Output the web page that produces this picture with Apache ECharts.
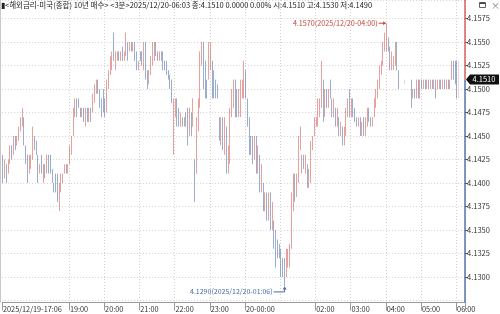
<!DOCTYPE html>
<html><head><meta charset="utf-8">
<script src="https://cdn.jsdelivr.net/npm/echarts@6/dist/echarts.min.js"></script>
<style>html,body{margin:0;padding:0;background:#fff}#c{width:500px;height:314px}</style>
</head><body><div id="c"></div>
<script>
const headerText = '▮<해외금리-미국(종합) 10년 매수> <3분>2025/12/20-06:03 종:4.1510 0.0000 0.00% 시:4.1510 고:4.1530 저:4.1490';
const highNote = '4.1570(2025/12/20-04:00)';
const lowNote = '4.1290(2025/12/20-01:06)';
const highIndex = 218, highValue = 4.1570;
const lowIndex = 160, lowValue = 4.1290;

const axisLabels = {'17:06':'2025/12/19-17:06','19:00':'19:00','20:00':'20:00','21:00':'21:00','22:00':'22:00','23:00':'23:00','00:00':'20-00:00','02:00':'02:00','03:00':'03:00','04:00':'04:00','05:00':'05:00','06:00':'06:00'};
const gridTimes = ['19:00','20:00','21:00','22:00','23:00','00:00','01:00','02:00','03:00','04:00','05:00','06:00'];

const opens = [
4.1420,4.1410,4.1420,4.1410,4.1420,4.1435,4.1430,4.1445,4.1440,4.1450,
4.1460,4.1465,4.1470,4.1440,4.1425,4.1410,4.1420,4.1425,4.1450,4.1440,
4.1430,4.1410,4.1425,4.1410,4.1415,4.1410,4.1425,4.1415,4.1410,4.1400,
4.1405,4.1390,4.1385,4.1390,4.1405,4.1410,4.1420,4.1415,4.1420,4.1440,
4.1450,4.1475,4.1485,4.1490,4.1480,4.1475,4.1480,4.1470,4.1475,4.1470,
4.1480,4.1475,4.1490,4.1500,4.1505,4.1500,4.1485,4.1490,4.1485,4.1475,
4.1505,4.1515,4.1530,4.1555,4.1530,4.1535,4.1540,4.1535,4.1540,4.1535,
4.1540,4.1550,4.1540,4.1550,4.1545,4.1550,4.1535,4.1520,4.1540,4.1535,
4.1530,4.1545,4.1515,4.1505,4.1515,4.1530,4.1540,4.1545,4.1540,4.1535,
4.1540,4.1535,4.1530,4.1525,4.1520,4.1510,4.1505,4.1450,4.1480,4.1485,
4.1470,4.1465,4.1470,4.1465,4.1470,4.1475,4.1450,4.1470,4.1460,4.1425,
4.1410,4.1460,4.1490,4.1530,4.1550,4.1510,4.1500,4.1510,4.1525,4.1530,
4.1510,4.1505,4.1500,4.1470,4.1450,4.1465,4.1440,4.1455,4.1420,4.1430,
4.1470,4.1490,4.1510,4.1490,4.1480,4.1490,4.1500,4.1505,4.1510,4.1490,
4.1465,4.1445,4.1440,4.1430,4.1440,4.1420,4.1425,4.1400,4.1400,4.1380,
4.1380,4.1375,4.1380,4.1360,4.1360,4.1340,4.1335,4.1330,4.1325,4.1310,
4.1305,4.1300,4.1310,4.1320,4.1330,4.1380,4.1410,4.1395,4.1400,4.1440,
4.1420,4.1430,4.1425,4.1420,4.1400,4.1410,4.1440,4.1450,4.1465,4.1470,
4.1480,4.1485,4.1510,4.1480,4.1495,4.1485,4.1505,4.1490,4.1480,4.1480,
4.1470,4.1470,4.1455,4.1455,4.1450,4.1455,4.1475,4.1485,4.1480,4.1485,
4.1475,4.1470,4.1465,4.1470,4.1455,4.1460,4.1455,4.1465,4.1475,4.1470,
4.1465,4.1470,4.1485,4.1495,4.1505,4.1520,4.1530,4.1545,4.1555,4.1550,
4.1545,4.1525,4.1525,4.1530,4.1545,4.1520,4.1510,4.1510,4.1510,4.1510,
4.1510,4.1510,4.1510,4.1490,4.1500,4.1495,4.1510,4.1505,4.1510,4.1505,
4.1510,4.1500,4.1510,4.1505,4.1510,4.1500,4.1510,4.1500,4.1505,4.1510,
4.1505,4.1510,4.1505,4.1510,4.1505,4.1510,4.1525,4.1520,4.1515,4.1510];
const closes = [
4.1410,4.1420,4.1410,4.1420,4.1435,4.1430,4.1445,4.1440,4.1450,4.1460,
4.1465,4.1470,4.1445,4.1425,4.1410,4.1420,4.1425,4.1450,4.1440,4.1430,
4.1405,4.1415,4.1410,4.1415,4.1410,4.1425,4.1415,4.1410,4.1400,4.1395,
4.1390,4.1385,4.1390,4.1405,4.1410,4.1420,4.1415,4.1420,4.1440,4.1450,
4.1475,4.1485,4.1480,4.1480,4.1475,4.1480,4.1470,4.1475,4.1470,4.1480,
4.1475,4.1490,4.1500,4.1505,4.1500,4.1485,4.1480,4.1480,4.1475,4.1505,
4.1515,4.1530,4.1540,4.1530,4.1535,4.1540,4.1535,4.1540,4.1535,4.1540,
4.1550,4.1540,4.1550,4.1545,4.1550,4.1535,4.1520,4.1530,4.1530,4.1530,
4.1545,4.1515,4.1505,4.1515,4.1530,4.1540,4.1545,4.1540,4.1535,4.1540,
4.1535,4.1530,4.1525,4.1520,4.1510,4.1505,4.1490,4.1480,4.1485,4.1470,
4.1465,4.1470,4.1465,4.1470,4.1465,4.1450,4.1470,4.1460,4.1485,4.1410,
4.1460,4.1490,4.1530,4.1545,4.1510,4.1500,4.1495,4.1540,4.1540,4.1510,
4.1500,4.1495,4.1490,4.1455,4.1465,4.1440,4.1455,4.1420,4.1430,4.1470,
4.1490,4.1500,4.1490,4.1480,4.1495,4.1500,4.1510,4.1510,4.1495,4.1465,
4.1445,4.1440,4.1430,4.1440,4.1420,4.1425,4.1400,4.1405,4.1380,4.1385,
4.1375,4.1380,4.1360,4.1365,4.1340,4.1335,4.1330,4.1325,4.1310,4.1305,
4.1300,4.1320,4.1325,4.1330,4.1390,4.1410,4.1400,4.1405,4.1440,4.1455,
4.1430,4.1425,4.1430,4.1400,4.1410,4.1440,4.1450,4.1465,4.1470,4.1480,
4.1490,4.1505,4.1480,4.1495,4.1485,4.1500,4.1490,4.1485,4.1485,4.1470,
4.1475,4.1455,4.1460,4.1450,4.1455,4.1475,4.1485,4.1480,4.1485,4.1475,
4.1470,4.1465,4.1470,4.1455,4.1460,4.1455,4.1465,4.1475,4.1470,4.1465,
4.1470,4.1485,4.1495,4.1505,4.1520,4.1530,4.1545,4.1555,4.1560,4.1545,
4.1525,4.1530,4.1530,4.1540,4.1520,4.1510,4.1510,4.1510,4.1510,4.1510,
4.1510,4.1510,4.1490,4.1500,4.1495,4.1510,4.1505,4.1510,4.1505,4.1510,
4.1500,4.1510,4.1505,4.1510,4.1500,4.1510,4.1500,4.1510,4.1510,4.1505,
4.1510,4.1505,4.1510,4.1505,4.1510,4.1525,4.1520,4.1515,4.1510,4.1510];
const lows = [
4.1400,4.1405,4.1400,4.1410,4.1420,4.1425,4.1430,4.1435,4.1440,4.1445,
4.1455,4.1460,4.1440,4.1420,4.1400,4.1410,4.1415,4.1425,4.1435,4.1430,
4.1400,4.1410,4.1410,4.1400,4.1405,4.1410,4.1410,4.1410,4.1400,4.1390,
4.1390,4.1380,4.1370,4.1390,4.1400,4.1410,4.1410,4.1410,4.1420,4.1430,
4.1450,4.1470,4.1470,4.1480,4.1470,4.1470,4.1465,4.1460,4.1465,4.1465,
4.1465,4.1475,4.1485,4.1495,4.1495,4.1480,4.1470,4.1475,4.1470,4.1475,
4.1500,4.1515,4.1520,4.1530,4.1520,4.1530,4.1530,4.1530,4.1530,4.1530,
4.1535,4.1530,4.1540,4.1540,4.1540,4.1530,4.1520,4.1520,4.1530,4.1525,
4.1520,4.1510,4.1500,4.1505,4.1515,4.1525,4.1530,4.1535,4.1530,4.1530,
4.1530,4.1520,4.1520,4.1515,4.1510,4.1500,4.1485,4.1430,4.1470,4.1460,
4.1460,4.1460,4.1460,4.1460,4.1460,4.1440,4.1450,4.1450,4.1460,4.1380,
4.1410,4.1455,4.1480,4.1525,4.1500,4.1490,4.1490,4.1510,4.1520,4.1490,
4.1490,4.1490,4.1490,4.1445,4.1440,4.1435,4.1430,4.1410,4.1410,4.1420,
4.1470,4.1480,4.1470,4.1470,4.1470,4.1470,4.1490,4.1490,4.1490,4.1460,
4.1430,4.1430,4.1420,4.1425,4.1410,4.1410,4.1390,4.1390,4.1370,4.1370,
4.1360,4.1360,4.1350,4.1350,4.1330,4.1310,4.1320,4.1320,4.1300,4.1300,
4.1290,4.1300,4.1310,4.1310,4.1330,4.1370,4.1380,4.1385,4.1400,4.1435,
4.1410,4.1415,4.1410,4.1395,4.1395,4.1400,4.1435,4.1450,4.1460,4.1460,
4.1470,4.1480,4.1465,4.1470,4.1480,4.1480,4.1490,4.1470,4.1470,4.1460,
4.1460,4.1450,4.1450,4.1440,4.1440,4.1450,4.1470,4.1470,4.1470,4.1470,
4.1465,4.1460,4.1460,4.1450,4.1450,4.1450,4.1450,4.1460,4.1465,4.1460,
4.1460,4.1470,4.1480,4.1490,4.1500,4.1515,4.1525,4.1540,4.1540,4.1540,
4.1520,4.1520,4.1520,4.1525,4.1520,4.1500,4.1510,4.1510,4.1505,4.1510,
4.1510,4.1510,4.1480,4.1490,4.1490,4.1490,4.1490,4.1490,4.1500,4.1500,
4.1500,4.1500,4.1500,4.1500,4.1500,4.1500,4.1490,4.1500,4.1500,4.1500,
4.1500,4.1500,4.1500,4.1500,4.1500,4.1510,4.1510,4.1505,4.1490,4.1490];
const highs = [
4.1430,4.1425,4.1420,4.1425,4.1440,4.1440,4.1450,4.1450,4.1450,4.1460,
4.1470,4.1480,4.1470,4.1440,4.1430,4.1430,4.1430,4.1460,4.1450,4.1445,
4.1430,4.1420,4.1430,4.1420,4.1420,4.1430,4.1430,4.1430,4.1415,4.1400,
4.1410,4.1410,4.1400,4.1410,4.1410,4.1420,4.1420,4.1420,4.1440,4.1450,
4.1480,4.1490,4.1490,4.1490,4.1480,4.1480,4.1480,4.1480,4.1480,4.1480,
4.1480,4.1495,4.1505,4.1510,4.1510,4.1500,4.1490,4.1500,4.1490,4.1510,
4.1520,4.1535,4.1540,4.1560,4.1540,4.1540,4.1540,4.1540,4.1545,4.1540,
4.1560,4.1550,4.1550,4.1550,4.1550,4.1550,4.1540,4.1530,4.1540,4.1540,
4.1550,4.1550,4.1520,4.1520,4.1535,4.1550,4.1550,4.1550,4.1540,4.1540,
4.1540,4.1540,4.1530,4.1530,4.1520,4.1515,4.1510,4.1490,4.1490,4.1490,
4.1480,4.1475,4.1470,4.1470,4.1475,4.1480,4.1480,4.1475,4.1490,4.1425,
4.1470,4.1490,4.1540,4.1550,4.1550,4.1530,4.1510,4.1550,4.1550,4.1530,
4.1520,4.1510,4.1505,4.1470,4.1470,4.1470,4.1470,4.1460,4.1440,4.1480,
4.1500,4.1510,4.1510,4.1500,4.1500,4.1510,4.1510,4.1530,4.1520,4.1490,
4.1470,4.1450,4.1450,4.1450,4.1450,4.1440,4.1430,4.1420,4.1400,4.1390,
4.1390,4.1390,4.1390,4.1380,4.1360,4.1350,4.1340,4.1335,4.1330,4.1320,
4.1320,4.1330,4.1330,4.1335,4.1390,4.1410,4.1410,4.1410,4.1450,4.1460,
4.1430,4.1430,4.1430,4.1420,4.1415,4.1445,4.1450,4.1470,4.1470,4.1490,
4.1490,4.1530,4.1510,4.1500,4.1500,4.1500,4.1510,4.1490,4.1490,4.1480,
4.1480,4.1470,4.1465,4.1460,4.1460,4.1480,4.1490,4.1500,4.1490,4.1490,
4.1480,4.1470,4.1470,4.1470,4.1465,4.1470,4.1470,4.1480,4.1480,4.1470,
4.1470,4.1490,4.1500,4.1510,4.1525,4.1530,4.1550,4.1560,4.1570,4.1555,
4.1545,4.1540,4.1535,4.1550,4.1550,4.1520,4.1510,4.1510,4.1510,4.1510,
4.1510,4.1510,4.1510,4.1500,4.1500,4.1510,4.1510,4.1510,4.1510,4.1510,
4.1510,4.1510,4.1510,4.1510,4.1510,4.1510,4.1510,4.1510,4.1510,4.1510,
4.1510,4.1510,4.1510,4.1510,4.1510,4.1530,4.1530,4.1530,4.1530,4.1530];

// time categories: 3-minute bars from 17:06, plus three empty slots at the right edge
const categories = [];
for (let k = 0; k < opens.length + 3; k++) {
  const m = (17 * 60 + 6 + 3 * k) % 1440;
  categories.push(String(Math.floor(m / 60)).padStart(2, '0') + ':' + String(m % 60).padStart(2, '0'));
}
const candleData = opens.map((o, i) => [o, closes[i], lows[i], highs[i]]);

const FONT = "'Liberation Sans Narrow','Noto Sans CJK KR','Liberation Sans',sans-serif";
const RED = '#d3554b', PINK = '#eab2ad', BLUE = '#4a68a4', LBLUE = '#aebed9';
const GRID_RIGHT = 35, Y_MIN = 4.1275, Y_MAX = 4.15947;

const chart = echarts.init(document.getElementById('c'), null, {renderer: 'canvas'});
const option = {
  animation: false,
  grid: {left: 0, right: GRID_RIGHT, top: 0, bottom: 13.5, show: false},
  xAxis: {
    type: 'category', data: categories, boundaryGap: true, offset: 2,
    axisLine: {lineStyle: {color: '#9a9a9a', width: 1}},
    axisTick: {show: true, length: 8, interval: (i, v) => v in axisLabels, lineStyle: {color: '#9a9a9a'}},
    axisLabel: {
      interval: (i, v) => v in axisLabels, formatter: (v) => axisLabels[v] || '',
      align: 'left', margin: 2, fontSize: 7.3, lineHeight: 9, color: '#333', fontFamily: FONT
    },
    splitLine: {show: true, interval: (i, v) => gridTimes.indexOf(v) >= 0, lineStyle: {type: [1, 2], color: '#d2d2d2'}}
  },
  yAxis: {
    type: 'value', position: 'right', min: Y_MIN, max: Y_MAX, interval: 0.0025, scale: true,
    axisLine: {show: false},
    axisTick: {show: true, length: 3, lineStyle: {color: '#555'}},
    axisLabel: {showMinLabel: false, showMaxLabel: false, margin: 2, fontSize: 7.5, color: '#333', fontFamily: FONT,
      formatter: (v) => v.toFixed(4)},
    splitLine: {show: true, lineStyle: {type: [1, 2], color: '#d2d2d2'}}
  },
  series: [{
    type: 'candlestick', data: candleData, barWidth: 1.1,
    itemStyle: {color: PINK, color0: LBLUE, borderColor: RED, borderColor0: BLUE, borderColorDoji: PINK, borderWidth: 0.55}
  }]
};
chart.setOption(option);

function overlay() {
  const P = (i, v) => chart.convertToPixel({gridIndex: 0}, [i, v]);
  const W = chart.getWidth();
  const xr = W - GRID_RIGHT;
  const last = closes[closes.length - 1];
  const yTop = P(0, Y_MAX)[1], yBot = P(0, Y_MIN)[1], yCur = P(0, last)[1];
  const hp = P(highIndex, highValue), lp = P(lowIndex, lowValue);
  const els = [
    {type: 'line', shape: {x1: 0.5, y1: yTop, x2: 0.5, y2: yBot + 2}, style: {stroke: '#c8c8c8', lineWidth: 1}},
    {type: 'line', shape: {x1: xr, y1: yTop, x2: xr, y2: yCur}, style: {stroke: '#d04a3e', lineWidth: 1.3}, z: 10},
    {type: 'line', shape: {x1: xr, y1: yCur, x2: xr, y2: yBot + 2}, style: {stroke: '#3e5e9e', lineWidth: 1.3}, z: 10},
    {type: 'polygon', shape: {points: [[xr + 1, yCur], [xr + 5, yCur - 5], [W - 1, yCur - 5], [W - 1, yCur + 5], [xr + 5, yCur + 5]]},
      style: {fill: '#111'}, z: 20},
    {type: 'text', x: xr + 19, y: yCur, style: {text: last.toFixed(4), fill: '#fff', font: '7.5px ' + FONT, align: 'center', verticalAlign: 'middle'}, z: 21},
    // high note
    {type: 'text', x: hp[0] - 9, y: hp[1], style: {text: highNote, fill: '#c9453b', font: '7.2px ' + FONT, align: 'right', verticalAlign: 'middle'}, z: 20},
    {type: 'line', shape: {x1: hp[0] - 8, y1: hp[1], x2: hp[0] - 1, y2: hp[1]}, style: {stroke: '#c9453b', lineWidth: 1}, z: 20},
    {type: 'polygon', shape: {points: [[hp[0] - 1, hp[1]], [hp[0] - 3.5, hp[1] - 2], [hp[0] - 3.5, hp[1] + 2]]}, style: {fill: '#c9453b'}, z: 20},
    // low note
    {type: 'text', x: lp[0] - 12, y: lp[1] + 5, style: {text: lowNote, fill: '#4a68a6', font: '7px ' + FONT, align: 'right', verticalAlign: 'middle'}, z: 20},
    {type: 'polyline', shape: {points: [[lp[0] - 11, lp[1] + 5.5], [lp[0], lp[1] + 5.5], [lp[0], lp[1] + 1]]}, style: {stroke: '#4a68a6', lineWidth: 1, fill: null}, z: 20},
    {type: 'polygon', shape: {points: [[lp[0], lp[1]], [lp[0] - 2, lp[1] + 3], [lp[0] + 2, lp[1] + 3]]}, style: {fill: '#4a68a6'}, z: 20},
    // header
    {type: 'text', x: 1, y: 5.5, style: {text: headerText, fill: '#222', font: '7.5px ' + FONT, verticalAlign: 'middle'}, z: 30},
    // window icons
    {type: 'rect', shape: {x: 479.5, y: 2.5, width: 6, height: 5}, style: {fill: '#fff', stroke: '#666', lineWidth: 1}, z: 30},
    {type: 'rect', shape: {x: 479.5, y: 2.5, width: 6, height: 1.5}, style: {fill: '#444'}, z: 30},
    {type: 'text', x: 491, y: 5.5, style: {text: '×', fill: '#777', font: '9px ' + FONT, verticalAlign: 'middle'}, z: 30}
  ];
  chart.setOption({graphic: {elements: els}});
}
overlay();
</script></body></html>
